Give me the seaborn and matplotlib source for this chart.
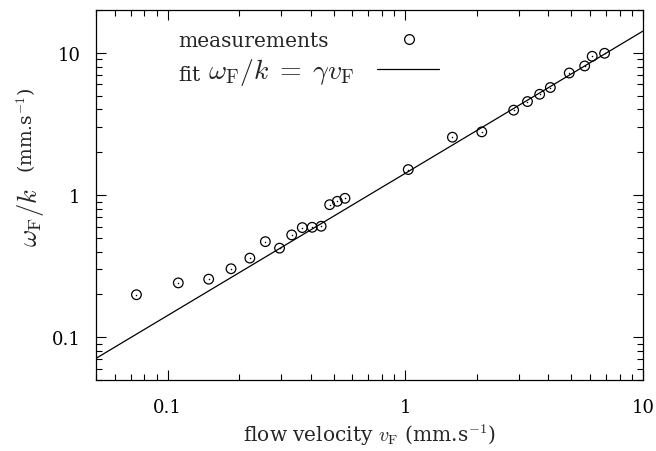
import matplotlib
matplotlib.use("Agg")
import numpy as np
import pandas as pd
import matplotlib.pyplot as plt
import seaborn as sns
from matplotlib.lines import Line2D
from matplotlib.ticker import FuncFormatter, NullFormatter

# flow velocity v_F (mm/s) and omega_F/k (mm/s)
v_flow = [0.074, 0.111, 0.149, 0.185, 0.222, 0.258, 0.296, 0.333, 0.369,
          0.406, 0.443, 0.481, 0.518, 0.558, 1.03, 1.58, 2.10, 2.86, 3.27,
          3.68, 4.08, 4.90, 5.69, 6.12, 6.90]
omega_k = [0.199, 0.241, 0.256, 0.303, 0.360, 0.470, 0.423, 0.524, 0.590,
           0.593, 0.603, 0.855, 0.903, 0.948, 1.51, 2.55, 2.78, 3.95, 4.54,
           5.11, 5.70, 7.21, 8.08, 9.45, 9.92]

# linear fit omega_F/k = gamma * v_F
gamma = 1.42
fit_x = [0.05, 10]

df = pd.DataFrame({"v": v_flow, "w": omega_k})
df_fit = pd.DataFrame({"v": fit_x, "w": [gamma * x for x in fit_x]})

sns.set_theme(style="ticks")
plt.rcParams["font.family"] = ["DejaVu Serif"]
plt.rcParams["mathtext.fontset"] = "cm"

fig = plt.figure(figsize=(6.56, 4.52), dpi=100)
ax = fig.add_axes([0.1463, 0.157, 0.8337, 0.8187])

sns.lineplot(data=df_fit, x="v", y="w", color="black", linewidth=0.9, ax=ax)
sns.scatterplot(data=df, x="v", y="w", marker="o", s=48, facecolor="none",
                edgecolor="black", linewidth=0.9, ax=ax)
sns.scatterplot(data=df, x="v", y="w", marker="o", s=1.2, color="black",
                linewidth=0, ax=ax)

ax.set_xscale("log")
ax.set_yscale("log")
ax.set_xlim(0.05, 10)
ax.set_ylim(0.05, 20)

fmt = FuncFormatter(lambda v, p: f"{v:g}")
ax.xaxis.set_major_formatter(fmt)
ax.yaxis.set_major_formatter(fmt)
ax.xaxis.set_minor_formatter(NullFormatter())
ax.yaxis.set_minor_formatter(NullFormatter())
ax.tick_params(which="both", direction="in", top=True, right=True,
               labelsize=13, width=0.8, colors="black")
ax.tick_params(axis="x", which="major", length=7, pad=13)
ax.tick_params(axis="y", which="major", length=7, pad=11)
ax.tick_params(which="minor", length=4)
for s in ax.spines.values():
    s.set_linewidth(0.9)
    s.set_color("black")

ax.set_xlabel(r"flow velocity $v_{\mathrm{F}}$ (mm.s$^{\mathrm{-1}}$)", fontsize=14.5, labelpad=4)
ax.set_ylabel("")
fig.text(0.046, 0.518, r"$\omega_{\mathrm{F}}/k$", rotation=90, fontsize=19,
         ha="center", va="center")
fig.text(0.040, 0.712, r"(mm.s$^{\mathrm{-1}}$)", rotation=90, fontsize=13.5,
         ha="center", va="center")

# key: one legend per row so the texts stay left-aligned and the keys line up
meas_key = Line2D([], [], marker="o", linestyle="none", markersize=7,
                  markerfacecolor="none", markeredgecolor="black", markeredgewidth=0.9)
fit_key = Line2D([], [], color="black", linewidth=0.9)
common = dict(loc="center left", frameon=False, markerfirst=False,
              borderpad=0, borderaxespad=0)
leg1 = ax.legend([meas_key], ["measurements"], bbox_to_anchor=(0.15, 0.917),
                 fontsize=14.5, handlelength=3.08, handletextpad=2.48, **common)
ax.add_artist(leg1)
ax.legend([fit_key], [r"$\omega_{\mathrm{F}}/k\;=\;\gamma v_{\mathrm{F}}$"],
          bbox_to_anchor=(0.205, 0.833), fontsize=20, handlelength=2.23,
          handletextpad=0.8, **common)
ax.text(0.15, 0.826, "fit", transform=ax.transAxes, fontsize=14.5,
        ha="left", va="center")

fig.savefig("out.png", dpi=100)
